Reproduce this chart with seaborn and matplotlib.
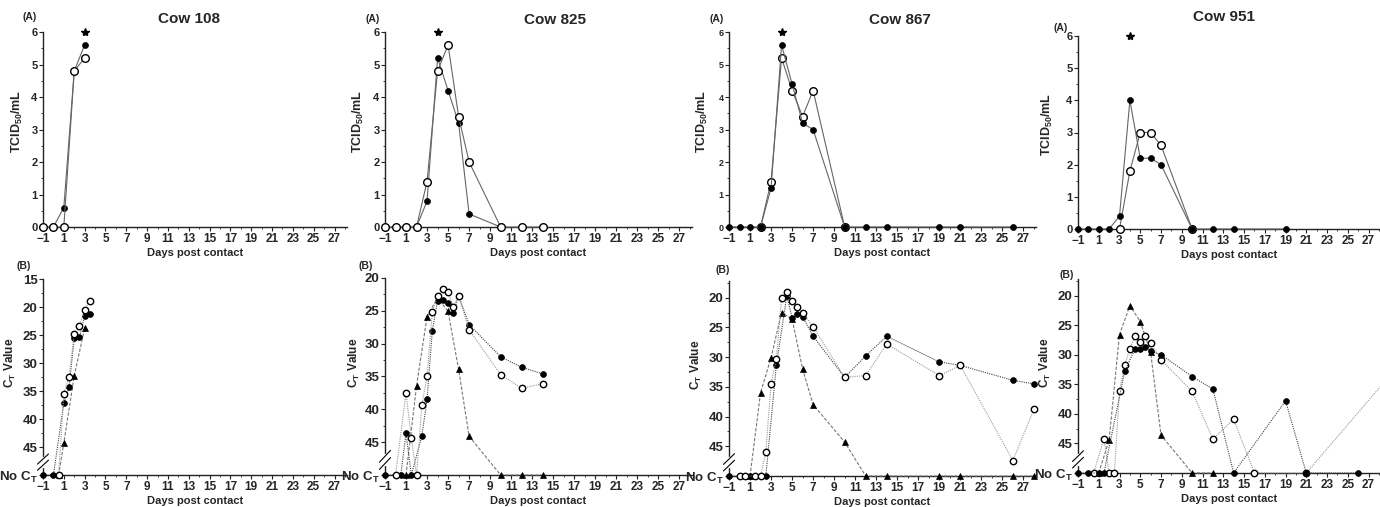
import matplotlib.pyplot as plt
import matplotlib.transforms as mtransforms
from matplotlib.ticker import FixedLocator
import seaborn as sns

sns.set_style("ticks")
plt.rcParams['font.family'] = ['Liberation Sans', 'DejaVu Sans']
plt.rcParams['font.weight'] = 'bold'
plt.rcParams['axes.labelweight'] = 'bold'
plt.rcParams['mathtext.fontset'] = 'custom'
plt.rcParams['mathtext.rm'] = 'Liberation Sans:bold'
plt.rcParams['mathtext.bf'] = 'Liberation Sans:bold'
plt.rcParams['mathtext.it'] = 'Liberation Sans:bold'

N = 50  # position used for "No Ct"

cows = ["Cow 108", "Cow 825", "Cow 867", "Cow 951"]
star_day = [3, 4, 4, 4]

# --- (A) virus titre, TCID50/mL ---
a_fill_x = [[-1, 0, 1, 2, 3],
            [-1, 0, 1, 2, 3, 4, 5, 6, 7, 10],
            [-1, 0, 1, 2, 3, 4, 5, 6, 7, 10, 12, 14, 19, 21, 26],
            [-1, 0, 1, 2, 3, 4, 5, 6, 7, 10, 12, 14, 19]]
a_fill_y = [[0, 0, 0.6, 4.8, 5.6],
            [0, 0, 0, 0, 0.8, 5.2, 4.2, 3.2, 0.4, 0],
            [0, 0, 0, 0, 1.2, 5.6, 4.4, 3.2, 3.0, 0, 0, 0, 0, 0, 0],
            [0, 0, 0, 0, 0.4, 4.0, 2.2, 2.2, 2.0, 0, 0, 0, 0]]
a_open_x = [[-1, 0, 1, 2, 3],
            [-1, 0, 1, 2, 3, 4, 5, 6, 7, 10, 12, 14],
            [2, 3, 4, 5, 6, 7, 10],
            [3, 4, 5, 6, 7, 10]]
a_open_y = [[0, 0, 0, 4.8, 5.2],
            [0, 0, 0, 0, 1.4, 4.8, 5.6, 3.4, 2.0, 0, 0, 0],
            [0, 1.4, 5.2, 4.2, 3.4, 4.2, 0],
            [0, 1.8, 3.0, 3.0, 2.6, 0]]

# --- (B) Ct values ---
b_fill_x = [[-1, 0, 1, 1.5, 2, 2.5, 3, 3.5],
            [-1, 0.5, 1, 1.5, 2.5, 3, 3.5, 4, 4.5, 5, 5.5, 6, 7, 10, 12, 14],
            [-1, 1, 2.5, 3.5, 4.5, 5, 5.5, 6, 7, 10, 12, 14, 19, 21, 26, 28],
            [-1, 0, 1, 1.5, 3.5, 4.5, 5, 5.5, 6, 7, 10, 12, 14, 19, 21, 26]]
b_fill_y = [[N, N, 37.1, 34.3, 25.6, 25.4, 21.6, 21.3],
            [N, N, 43.6, N, 44.1, 38.5, 28.0, 23.5, 23.4, 23.8, 25.4, 22.7, 27.1, 32.0, 33.6, 34.6],
            [N, N, N, 31.4, 19.7, 23.4, 22.8, 23.2, 26.5, 33.4, 29.8, 26.5, 30.8, 31.4, 33.9, 34.5],
            [N, N, N, N, 32.8, 29.0, 29.0, 28.7, 29.4, 30.0, 33.7, 35.8, N, 37.8, N, N]]
b_open_x = [[0.5, 1, 1.5, 2, 2.5, 3, 3.5],
            [0, 1, 1.5, 2, 2.5, 3, 3.5, 4, 4.5, 5, 5.5, 6, 7, 10, 12, 14],
            [0, 0.5, 1.5, 2, 2.5, 3, 3.5, 4, 4.5, 5, 5.5, 6, 7, 10, 12, 14, 19, 21, 26, 28],
            [0.5, 1.5, 2, 2.5, 3, 3.5, 4, 4.5, 5, 5.5, 6, 7, 10, 12, 14, 16, 21, 30]]
b_open_y = [[N, 35.5, 32.5, 24.9, 23.4, 20.5, 18.9],
            [N, 37.5, 44.4, N, 39.4, 35.0, 25.2, 22.7, 21.6, 22.1, 24.4, 22.7, 27.9, 34.7, 36.8, 36.1],
            [N, N, N, N, 46.0, 34.5, 30.4, 20.1, 19.0, 20.6, 21.5, 22.5, 24.9, 33.4, 33.1, 27.8, 33.1, 31.4, 47.4, 38.8],
            [N, 44.3, N, N, 36.1, 31.8, 29.0, 26.8, 27.8, 26.8, 28.0, 30.9, 36.2, 44.3, 40.9, N, N, 31.6]]
b_tri_x = [[0.5, 1, 2, 3],
           [1, 2, 3, 4, 5, 6, 7, 10, 12, 14],
           [1, 2, 3, 4, 5, 6, 7, 10, 12, 14, 19, 21, 26, 28],
           [1, 2, 3, 4, 5, 6, 7, 10, 12]]
b_tri_y = [[N, 44.3, 32.3, 23.8],
           [N, 36.4, 25.9, 23.0, 25.1, 33.9, 44.1, N, N, N],
           [N, 36.0, 30.1, 22.5, 23.6, 32.0, 38.0, 44.3, N, N, N, N, N, N],
           [N, 44.4, 26.6, 21.7, 24.4, 29.6, 43.6, N, N]]
b_top = [15, 20, 17.2, 17.2]
b_first_tick = [15, 20, 20, 20]

# --- layout (pixel boxes: left, right, top, bottom) ---
W, H = 1380, 507
top_boxes = [(43, 347, 32, 227), (385, 692, 32, 227), (729, 1036, 32, 227), (1078, 1381, 36, 229)]
bot_boxes = [(43, 347, 279, 475), (385, 692, 278, 475), (729, 1036, 281, 476), (1078, 1381, 279, 473)]
title_pos = [(189, 19), (555, 20), (900, 20), (1224, 17)]
a_pos = [(30, 17), (373, 19), (717, 19), (1061, 28)]
b_pos = [(24, 266), (366, 266), (723, 270), (1067, 275)]
top_ylab_x = [-0.059, -0.062, -0.062, -0.076]
bot_ylab_x = [-0.082, -0.075, -0.081, -0.083]
top_open_first = [False, False, True, True]
bot_open_first = [False, False, False, True]

fig = plt.figure(figsize=(13.8, 5.07), dpi=100)


def add_ax(box):
    l, r, t, b = box
    return fig.add_axes([l / W, 1 - b / H, (r - l) / W, (b - t) / H])


def style(ax, ysize):
    sns.despine(ax=ax)
    for s in ("left", "bottom"):
        ax.spines[s].set_linewidth(1.0)
        ax.spines[s].set_color("#222222")
    ax.set_xlim(-1, 28.2)
    ax.xaxis.set_major_locator(FixedLocator(list(range(-1, 28, 2))))
    ax.xaxis.set_minor_locator(FixedLocator(list(range(-1, 29))))
    ax.tick_params(which="major", length=3, width=0.8, color="#222222", pad=1.5)
    ax.tick_params(which="minor", length=1.5, width=0.6, color="#222222")
    ax.tick_params(axis="x", labelsize=8.5)
    ax.tick_params(axis="y", labelsize=ysize, pad=1)


mk = dict(estimator=None, sort=False, clip_on=False)

for i in range(4):
    # ---------- row A ----------
    ax = add_ax(top_boxes[i])
    zf, zo = (5, 4) if top_open_first[i] else (4, 5)
    sns.lineplot(x=a_fill_x[i], y=a_fill_y[i], ax=ax, color="#666666", lw=0.8,
                 marker="o", markersize=4.3, mfc="black", mec="black", mew=0.5, zorder=zf, **mk)
    sns.lineplot(x=a_open_x[i], y=a_open_y[i], ax=ax, color="#666666", lw=0.8,
                 marker="o", markersize=5.5, mfc="white", mec="black", mew=1.0, zorder=zo, **mk)
    ax.plot([star_day[i]], [6.0], marker="*", color="black", markersize=6, clip_on=False, zorder=6)
    style(ax, 8 if i != 2 else 6.5)
    ax.set_ylim(0, 6)
    ax.yaxis.set_major_locator(FixedLocator(list(range(0, 7))))
    ax.yaxis.set_minor_locator(FixedLocator([k + 0.5 for k in range(6)]))
    ax.set_ylabel(r"TCID$_{50}$/mL", fontsize=9, fontweight="bold")
    ax.yaxis.set_label_coords(top_ylab_x[i], 0.54)
    ax.set_xlabel("Days post contact", fontsize=8, fontweight="bold", labelpad=2)
    fig.text(title_pos[i][0] / W, 1 - title_pos[i][1] / H, cows[i], fontsize=11,
             fontweight="bold", ha="center", va="center")
    fig.text(a_pos[i][0] / W, 1 - a_pos[i][1] / H, "(A)", fontsize=7.5,
             fontweight="bold", ha="center", va="center")

    # ---------- row B ----------
    ax = add_ax(bot_boxes[i])
    zf, zo = (5, 4) if bot_open_first[i] else (4, 5)
    sns.lineplot(x=b_tri_x[i], y=b_tri_y[i], ax=ax, color="#777777", lw=0.8,
                 linestyle=(0, (3, 1.5)), marker="^", markersize=4.3, mfc="black",
                 mec="black", mew=0.5, zorder=3, **mk)
    sns.lineplot(x=b_fill_x[i], y=b_fill_y[i], ax=ax, color="#444444", lw=0.8,
                 linestyle=(0, (1, 1)), marker="o", markersize=4.2, mfc="black",
                 mec="black", mew=0.5, zorder=zf, **mk)
    sns.lineplot(x=b_open_x[i], y=b_open_y[i], ax=ax, color="#999999", lw=0.8,
                 linestyle=(0, (1, 1)), marker="o", markersize=4.6, mfc="white",
                 mec="black", mew=1.0, zorder=zo, **mk)
    style(ax, 9.5)
    ax.set_xlim(-1, 28.2)
    ax.set_ylim(N, b_top[i])
    ticks = list(range(b_first_tick[i], 46, 5)) + [N]
    ax.yaxis.set_major_locator(FixedLocator(ticks))
    ax.set_yticklabels([str(t) for t in ticks[:-1]] + [r"No C$_{\mathrm{T}}$"])
    ax.yaxis.set_minor_locator(FixedLocator([t + 2.5 for t in range(15, 45, 5) if t + 2.5 > b_top[i]]))
    ax.set_ylabel(r"C$_{\mathrm{T}}$ Value", fontsize=8.5, fontweight="bold")
    ax.yaxis.set_label_coords(bot_ylab_x[i], 0.57)
    ax.set_xlabel("Days post contact", fontsize=8, fontweight="bold", labelpad=2)

    # axis break marks on the y spine
    tr = mtransforms.blended_transform_factory(ax.transAxes, ax.transData)
    ax.plot([0, 0], [47.0, 48.4], transform=tr, color="white", lw=2.5, clip_on=False, zorder=6)
    for off in (-0.55, 0.55):
        ax.plot([-0.018, 0.018], [47.7 + off + 0.9, 47.7 + off - 0.9], transform=tr,
                color="black", lw=0.8, clip_on=False, zorder=7)
    fig.text(b_pos[i][0] / W, 1 - b_pos[i][1] / H, "(B)", fontsize=7.5,
             fontweight="bold", ha="center", va="center")

fig.savefig("out.png", dpi=100, facecolor="white")
